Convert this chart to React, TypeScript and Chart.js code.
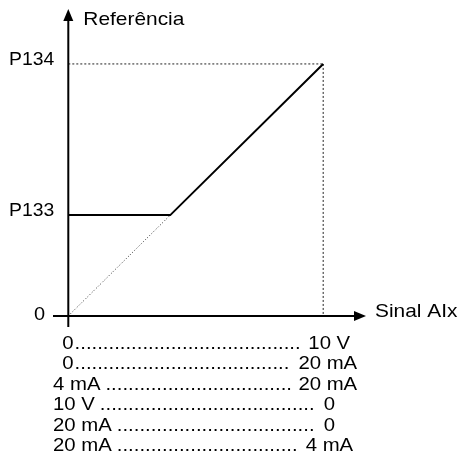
import React, { useEffect, useRef } from "react";
import { Chart, registerables } from "chart.js";

Chart.register(...registerables);

const FONT = '"Liberation Sans", Arial, sans-serif';

// Characteristic curve (values as % of the range, 0..10)
const curveX = [0, 4, 10];
const curveY = [4, 4, 10];
// Dotted reference line from origin to P133 point
const diagX = [0, 4];
const diagY = [0, 4];
// Dotted guides to P134 / 100%
const topGuideX = [0, 10];
const topGuideY = [10, 10];
const rightGuideX = [10, 10];
const rightGuideY = [10, 0];

const yTickValues = [0, 4, 10];
const yTickLabels = ["0", "P133", "P134"];
const yAxisTitle = "Referência";
const xAxisTitle = "Sinal AIx";

const rangeStart = ["0", "0", "4 mA", "10 V", "20 mA", "20 mA"];
const rangeEnd = ["10 V", "20 mA", "20 mA", "0", "0", "4 mA"];

const zip = (xs: number[], ys: number[]) => xs.map((x, i) => ({ x, y: ys[i] }));

function drawText(ctx: CanvasRenderingContext2D, text: string, x: number, y: number, align: CanvasTextAlign, sx: number) {
  ctx.save();
  ctx.translate(x, y);
  ctx.scale(sx, 1);
  ctx.textAlign = align;
  ctx.fillText(text, 0, 0);
  ctx.restore();
}

const overlay = {
  id: "overlay",
  afterDatasetsDraw(chart: any) {
    const { ctx, scales } = chart;
    const xs = scales.x;
    const ys = scales.y;
    const x0 = xs.getPixelForValue(0);
    const y0 = ys.getPixelForValue(0);
    const x10 = xs.getPixelForValue(10);
    ctx.save();
    ctx.strokeStyle = "#000";
    ctx.fillStyle = "#000";
    ctx.lineWidth = 2;
    ctx.setLineDash([]);
    // x axis
    ctx.beginPath();
    ctx.moveTo(xs.left, y0);
    ctx.lineTo(xs.right - 8, y0);
    ctx.stroke();
    ctx.beginPath();
    ctx.moveTo(xs.right, y0);
    ctx.lineTo(xs.right - 12, y0 - 5);
    ctx.lineTo(xs.right - 12, y0 + 5);
    ctx.closePath();
    ctx.fill();
    // y axis
    ctx.beginPath();
    ctx.moveTo(x0, ys.bottom);
    ctx.lineTo(x0, ys.top + 8);
    ctx.stroke();
    ctx.beginPath();
    ctx.moveTo(x0, ys.top);
    ctx.lineTo(x0 - 5, ys.top + 12);
    ctx.lineTo(x0 + 5, ys.top + 12);
    ctx.closePath();
    ctx.fill();

    // tick labels
    ctx.font = `19px ${FONT}`;
    ctx.textBaseline = "middle";
    yTickValues.forEach((v, i) => {
      const py = ys.getPixelForValue(v);
      if (v === 0) drawText(ctx, yTickLabels[i], xs.left - 8, py - 1, "right", 1.05);
      else drawText(ctx, yTickLabels[i], x0 - 14, py - 4, "right", 1.02);
    });
    // titles
    drawText(ctx, yAxisTitle, x0 + 15, ys.top + 11, "left", 1.1);
    drawText(ctx, xAxisTitle, xs.right + 9, y0 - 4, "left", 1.1);

    // range table
    ctx.font = `18px ${FONT}`;
    const sx = 1.13;
    const ends = [27, 34, 34, 12, 12, 30];
    const dotW = ctx.measureText(".").width * sx;
    rangeStart.forEach((s, i) => {
      const py = y0 + 28 + i * 20.5;
      const lx = s === "0" ? x0 - 6 : xs.left;
      drawText(ctx, s, lx, py, "left", sx);
      const lEnd = lx + ctx.measureText(s).width * sx + (s === "0" ? 1 : 5);
      const rx = x10 + ends[i];
      drawText(ctx, rangeEnd[i], rx, py, "right", sx);
      const rStart = rx - ctx.measureText(rangeEnd[i]).width * sx - 5;
      const n = Math.floor((rStart - lEnd) / dotW);
      drawText(ctx, ".".repeat(Math.max(0, n)), lEnd, py, "left", sx);
    });
    ctx.restore();
  },
};

export default function App() {
  const ref = useRef<HTMLCanvasElement | null>(null);
  useEffect(() => {
    if (!ref.current) return;
    const chart = new Chart(ref.current, {
      type: "line",
      data: {
        datasets: [
          {
            data: zip(curveX, curveY),
            borderColor: "#000",
            borderWidth: 2,
            pointRadius: 0,
            tension: 0,
          },
          {
            data: zip(diagX, diagY),
            borderColor: "#333",
            borderWidth: 1,
            borderDash: [1, 2],
            pointRadius: 0,
          },
          {
            data: zip(topGuideX, topGuideY),
            borderColor: "#222",
            borderWidth: 1,
            borderDash: [2, 2],
            pointRadius: 0,
          },
          {
            data: zip(rightGuideX, rightGuideY),
            borderColor: "#222",
            borderWidth: 1,
            borderDash: [2, 2],
            pointRadius: 0,
          },
        ],
      },
      options: {
        responsive: false,
        animation: false,
        parsing: true,
        layout: { padding: { left: 53, right: 92, top: 9, bottom: 132 } },
        plugins: { legend: { display: false }, tooltip: { enabled: false } },
        scales: {
          x: { type: "linear", min: -0.6, max: 11.68, display: false },
          y: { type: "linear", min: -0.44, max: 12.18, display: false },
        },
      },
      plugins: [overlay],
    });
    return () => chart.destroy();
  }, []);
  return (
    <div style={{ position: "absolute", left: 0, top: 0, width: 458, height: 459, background: "#fff" }}>
      <canvas ref={ref} width={458} height={459} />
    </div>
  );
}
